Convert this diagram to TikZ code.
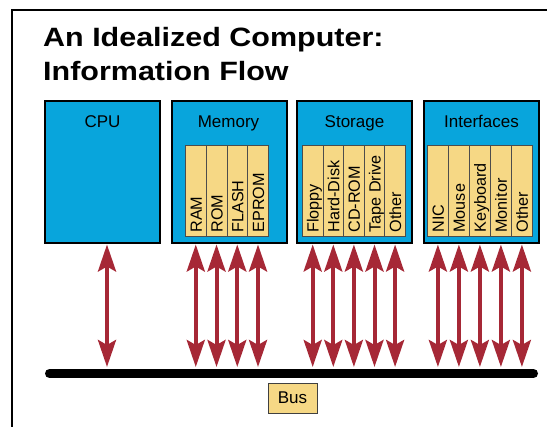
\documentclass[tikz,border=0pt]{standalone}
\usepackage{fontspec}
\setmainfont{Liberation Sans}
\usetikzlibrary{arrows.meta,calc}
\definecolor{boxblue}{RGB}{8,165,220}
\definecolor{slotyellow}{RGB}{246,216,133}
\definecolor{arrred}{RGB}{166,40,54}
\begin{document}
\begin{tikzpicture}[x=1pt,y=-1pt,
  unitbox/.style={draw=black, line width=2pt, fill=boxblue, minimum width=115pt, minimum height=142pt, anchor=north west, inner sep=0pt},
  slot/.style={draw=black!70, line width=0.8pt, fill=slotyellow, minimum height=91pt, anchor=north west, inner sep=0pt},
  boxlabel/.style={font=\fontsize{17}{20}\selectfont, anchor=base, inner sep=0pt},
  slotlabel/.style={font=\fontsize{16.2}{19}\selectfont, rotate=90, anchor=base west, inner sep=0pt},
  titletext/.style={font=\fontsize{26.5}{34}\selectfont\bfseries, anchor=base west, inner sep=0pt},
  flow/.style={draw=arrred, line width=4pt, arrows={Stealth[length=27pt,width=18pt,inset=5pt]-Stealth[length=27pt,width=18pt,inset=5pt]}, shorten <=0.5pt, shorten >=6.5pt},
]
\useasboundingbox (0,0) rectangle (547,427);
\draw[line width=2pt, line join=miter] (12,428) -- (12,10.5) -- (548,10.5);

\node[titletext] (title1) at (43,47) {\scalebox{1.15}[1]{An Idealized Computer:}};
\node[titletext] (title2) at (43,81) {\scalebox{1.15}[1]{Information Flow}};

\node[unitbox] (cpu) at (44,100) {};
\node[unitbox] (mem) at (171,100) {};
\node[unitbox] (sto) at (296,100) {};
\node[unitbox] (ifc) at (423,100) {};

\node[boxlabel] (cpulbl) at ($(cpu.north)+(0,28)$) {CPU};
\node[boxlabel] (memlbl) at ($(mem.north)+(-1,28)$) {Memory};
\node[boxlabel] (stolbl) at ($(sto.north)+(0,28)$) {Storage};
\node[boxlabel] (ifclbl) at ($(ifc.north)+(0,28)$) {Interfaces};

\foreach \nm/\tx [count=\i from 0] in {ram/RAM, rom/ROM, flash/FLASH, eprom/EPROM}{
  \node[slot, minimum width=20.75pt] (\nm) at (185+\i*20.75,145) {};
  \node[slotlabel] (\nm lbl) at ($(\nm.south)+(6,-4)$) {\tx};
}
\foreach \nm/\tx [count=\i from 0] in {floppy/Floppy, hdd/Hard-Disk, cdrom/CD-ROM, tape/Tape Drive, sother/Other}{
  \node[slot, minimum width=20.6pt] (\nm) at (302+\i*20.6,145) {};
  \node[slotlabel] (\nm lbl) at ($(\nm.south)+(6,-4)$) {\tx};
}
\foreach \nm/\tx [count=\i from 0] in {nic/NIC, mouse/Mouse, kbd/Keyboard, mon/Monitor, iother/Other}{
  \node[slot, minimum width=21pt] (\nm) at (427+\i*21,145) {};
  \node[slotlabel] (\nm lbl) at ($(\nm.south)+(6,-4)$) {\tx};
}

\coordinate (busL) at (49.5,373.5);
\coordinate (busR) at (533.5,373.5);
\draw[line width=9pt, line cap=round] (busL) -- (busR);
\node[draw=black!75, line width=0.8pt, fill=slotyellow, minimum width=49pt, minimum height=30pt, inner sep=0pt, font=\fontsize{17}{20}\selectfont] (buslbl) at (292.5,398) {Bus};

\coordinate (cpuport) at ($(cpu.south)+(4.5,0)$);
\draw[flow] (cpuport) -- (cpuport |- busL);
\foreach \nm in {ram,rom,flash,eprom}{\draw[flow] (\nm |- mem.south) -- (\nm |- busL);}
\foreach \nm in {floppy,hdd,cdrom,tape,sother}{\draw[flow] (\nm |- sto.south) -- (\nm |- busL);}
\foreach \nm in {nic,mouse,kbd,mon,iother}{\draw[flow] (\nm |- ifc.south) -- (\nm |- busL);}
\end{tikzpicture}
\end{document}
